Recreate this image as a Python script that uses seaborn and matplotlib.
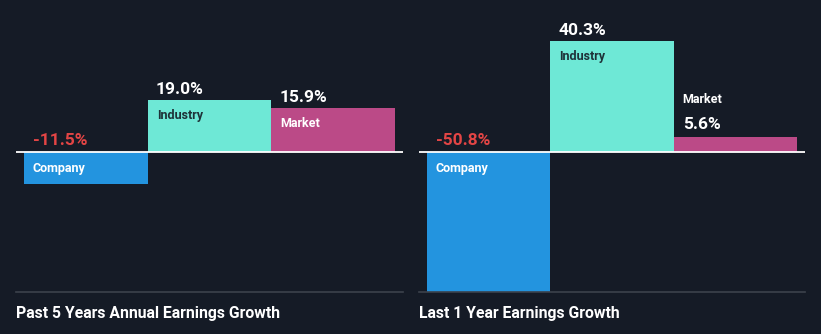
import matplotlib
matplotlib.use("Agg")
import matplotlib.pyplot as plt
import seaborn as sns
import pandas as pd

# Earnings growth comparison (percent)
categories = ["Company", "Industry", "Market"]
past_5y_values = [-11.5, 19.0, 15.9]
last_1y_values = [-50.8, 40.3, 5.6]
panel_titles = ["Past 5 Years Annual Earnings Growth", "Last 1 Year Earnings Growth"]

BG = "#151b26"
bar_colors = {"Company": "#2394df", "Industry": "#6ee8d6", "Market": "#bb4a87"}
name_colors = {"Company": "#ffffff", "Industry": "#1e3238", "Market": "#ffffff"}
NEG_COLOR = "#e34545"
AXIS_GRAY = "#3c424c"

sns.set_theme(style="dark")
plt.rcParams["font.family"] = ["Roboto", "DejaVu Sans"]

W, H = 821, 334
fig = plt.figure(figsize=(W / 100, H / 100), dpi=100, facecolor=BG)

ylims = (-50.8, 47.9)
panels = [
    (past_5y_values, [16 / W, 42 / H, 387 / W, 272 / H]),
    (last_1y_values, [419 / W, 42 / H, 386 / W, 272 / H]),
]

PX = 0.72  # points per pixel at 100 dpi
VAL_FS = 12.5
NAME_FS = 9

for (values, rect), title in zip(panels, panel_titles):
    ax = fig.add_axes(rect)
    ax.set_facecolor(BG)
    df = pd.DataFrame({"category": categories, "value": values})
    sns.barplot(data=df, x="category", y="value", hue="category",
                palette=bar_colors, width=1.0, saturation=1, legend=False,
                ax=ax, linewidth=0)
    pad = 8 / 124
    ax.set_xlim(-0.5 - pad, 2.5 + pad)
    ax.set_ylim(*ylims)
    ax.axhline(0, color="white", lw=1.3, zorder=5)
    for side in ["top", "left", "right"]:
        ax.spines[side].set_visible(False)
    ax.spines["bottom"].set_color(AXIS_GRAY)
    ax.spines["bottom"].set_linewidth(1.2)
    ax.set_xticks([])
    ax.set_yticks([])
    ax.set_xlabel("")
    ax.set_ylabel("")
    ax.grid(False)

    # px per data unit for deciding label placement
    px_per_unit = 272 / (ylims[1] - ylims[0])
    for i, (cat, v) in enumerate(zip(categories, values)):
        x0 = i - 0.5
        label = f"{v:.1f}%"
        if v < 0:
            ax.annotate(label, (x0, 0), xytext=(9 * PX, 7 * PX),
                        textcoords="offset points", ha="left", va="baseline",
                        color=NEG_COLOR, fontsize=VAL_FS, fontweight="bold")
            ax.annotate(cat, (x0, 0), xytext=(9 * PX, -10 * PX),
                        textcoords="offset points", ha="left", va="top",
                        color=name_colors[cat], fontsize=NAME_FS, fontweight="bold")
        else:
            bar_px = v * px_per_unit
            if bar_px >= 30:
                ax.annotate(label, (x0, v), xytext=(8 * PX, 6 * PX),
                            textcoords="offset points", ha="left", va="baseline",
                            color="white", fontsize=VAL_FS, fontweight="bold")
                ax.annotate(cat, (x0, v), xytext=(9 * PX, -9 * PX),
                            textcoords="offset points", ha="left", va="top",
                            color=name_colors[cat], fontsize=NAME_FS, fontweight="bold")
            else:
                ax.annotate(label, (x0, v), xytext=(9 * PX, 8 * PX),
                            textcoords="offset points", ha="left", va="baseline",
                            color="white", fontsize=VAL_FS, fontweight="bold")
                ax.annotate(cat, (x0, v), xytext=(9 * PX, 34 * PX),
                            textcoords="offset points", ha="left", va="baseline",
                            color="white", fontsize=NAME_FS, fontweight="bold")

    fig.text(rect[0], 16 / H, title, ha="left", va="baseline",
             color="white", fontsize=11.3, fontweight="bold")

fig.savefig("out.png", dpi=100, facecolor=BG)
